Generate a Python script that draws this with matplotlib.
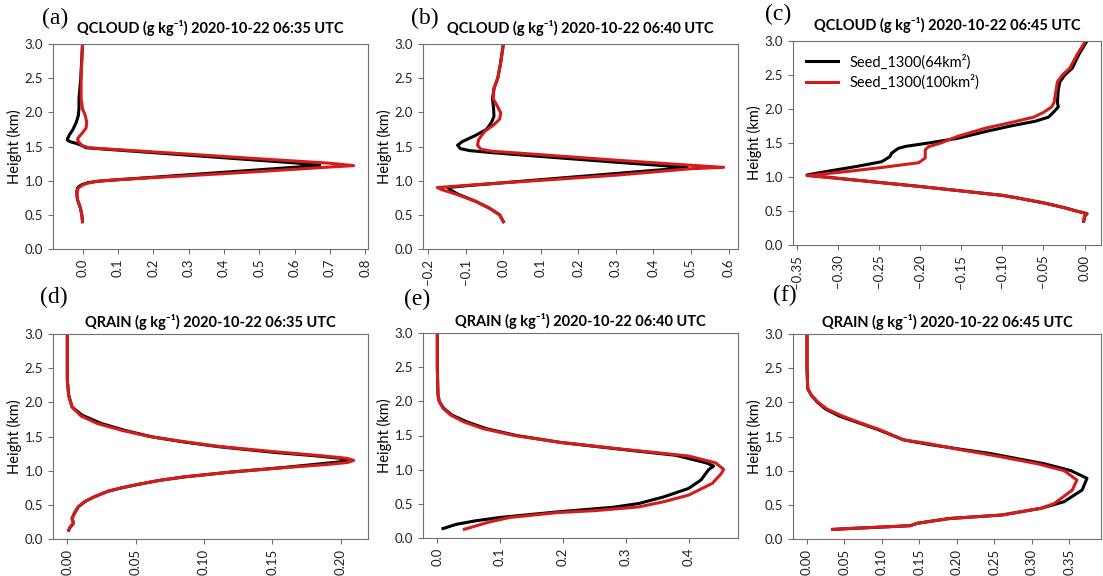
import matplotlib.pyplot as plt
from matplotlib.ticker import MultipleLocator

# 垂直廓线数据：高度(km) 与 混合比(g/kg)，black = 64km², red = 100km²
# (a) QCLOUD 06:35
a_black_h = [3.0, 2.5, 2.2, 2.05, 1.95, 1.85, 1.75, 1.68, 1.62, 1.595, 1.57, 1.547, 1.51, 1.483, 1.462,
             1.41, 1.335, 1.26, 1.226, 1.196, 1.123, 1.05, 1.01, 0.99, 0.97, 0.945, 0.92, 0.893, 0.85,
             0.8, 0.717, 0.6, 0.5, 0.4]
a_black_q = [0.0, -0.005, -0.01, -0.01, -0.012, -0.018, -0.027, -0.036, -0.042, -0.043, -0.035, -0.019,
             0.0, 0.009, 0.06, 0.2, 0.4, 0.6, 0.671, 0.6, 0.4, 0.2, 0.09, 0.04, 0.015, 0.0, -0.009,
             -0.014, -0.016, -0.016, -0.014, -0.006, -0.002, 0.0]
a_red_h = [3.0, 2.5, 2.2, 2.05, 1.95, 1.85, 1.77, 1.7, 1.63, 1.595, 1.55, 1.51, 1.48, 1.454, 1.388, 1.32,
           1.255, 1.22, 1.2, 1.134, 1.073, 1.018, 1.0, 0.98, 0.96, 0.935, 0.9, 0.87, 0.8, 0.717, 0.6,
           0.5, 0.4]
a_red_q = [0.0, -0.004, -0.004, 0.0, 0.008, 0.012, 0.01, 0.0, -0.012, -0.014, -0.008, 0.0, 0.02, 0.1,
           0.3, 0.5, 0.7, 0.767, 0.7, 0.5, 0.3, 0.11, 0.06, 0.03, 0.012, 0.0, -0.01, -0.014, -0.016,
           -0.014, -0.006, -0.002, 0.0]

# (b) QCLOUD 06:40
b_black_h = [3.0, 2.7, 2.5, 2.35, 2.2, 2.05, 1.94, 1.85, 1.75, 1.66, 1.57, 1.52, 1.47, 1.44, 1.41,
             1.375, 1.27, 1.21, 1.19, 1.15, 1.06, 0.97, 0.925, 0.9, 0.86, 0.8, 0.7, 0.6, 0.5, 0.43, 0.4]
b_black_q = [0.0, -0.008, -0.015, -0.025, -0.029, -0.026, -0.025, -0.032, -0.045, -0.075, -0.11, -0.122,
             -0.115, -0.09, -0.03, 0.05, 0.3, 0.45, 0.49, 0.4, 0.2, 0.0, -0.1, -0.149, -0.14, -0.12,
             -0.075, -0.038, -0.01, -0.003, 0.0]
b_red_h = [3.0, 2.7, 2.5, 2.35, 2.2, 2.08, 1.99, 1.9, 1.82, 1.72, 1.6, 1.52, 1.46, 1.43, 1.4, 1.3,
           1.225, 1.195, 1.175, 1.08, 1.005, 0.95, 0.91, 0.9, 0.87, 0.8, 0.7, 0.6, 0.5, 0.4]
b_red_q = [0.0, -0.008, -0.015, -0.025, -0.027, -0.015, -0.007, -0.01, -0.025, -0.05, -0.066, -0.069,
           -0.06, -0.03, 0.05, 0.3, 0.5, 0.587, 0.5, 0.3, 0.1, -0.05, -0.15, -0.176, -0.165, -0.125,
           -0.075, -0.038, -0.01, 0.0]

# (c) QCLOUD 06:45
c_black_h = [3.0, 2.8, 2.6, 2.5, 2.4, 2.28, 2.1, 2.03, 1.95, 1.88, 1.82, 1.75, 1.67, 1.57, 1.5, 1.45,
             1.42, 1.35, 1.3, 1.225, 1.15, 1.09, 1.03, 0.98, 0.92, 0.86, 0.795, 0.73, 0.69, 0.62, 0.55,
             0.5, 0.46, 0.42, 0.35]
c_black_q = [0.003, -0.007, -0.015, -0.024, -0.03, -0.032, -0.033, -0.032, -0.038, -0.044, -0.06, -0.09,
             -0.12, -0.154, -0.19, -0.218, -0.227, -0.235, -0.237, -0.247, -0.28, -0.31, -0.338, -0.3,
             -0.25, -0.2, -0.15, -0.1, -0.081, -0.05, -0.025, -0.01, 0.003, 0.0, -0.001]
c_red_h = [3.0, 2.8, 2.6, 2.5, 2.4, 2.25, 2.1, 2.03, 1.95, 1.88, 1.8, 1.72, 1.6, 1.5, 1.445, 1.4, 1.28,
           1.21, 1.14, 1.08, 1.02, 0.98, 0.92, 0.86, 0.795, 0.73, 0.69, 0.62, 0.55, 0.5, 0.46, 0.42, 0.35]
c_red_q = [0.001, -0.009, -0.018, -0.027, -0.033, -0.035, -0.037, -0.04, -0.05, -0.062, -0.09, -0.12,
           -0.154, -0.175, -0.19, -0.194, -0.194, -0.202, -0.247, -0.29, -0.338, -0.3, -0.25, -0.2,
           -0.15, -0.1, -0.081, -0.05, -0.025, -0.01, 0.003, 0.0, -0.001]

# (d) QRAIN 06:35
d_black_h = [3.0, 2.33, 2.1, 1.93, 1.81, 1.69, 1.59, 1.495, 1.42, 1.35, 1.27, 1.22, 1.18, 1.16, 1.13,
             1.1, 1.05, 0.98, 0.91, 0.86, 0.8, 0.75, 0.7, 0.62, 0.55, 0.47, 0.37, 0.3, 0.23, 0.17, 0.13]
d_black_q = [0.0, 0.0, 0.001, 0.0035, 0.011, 0.025, 0.042, 0.062, 0.085, 0.111, 0.15, 0.18, 0.2, 0.205,
             0.2, 0.185, 0.16, 0.12, 0.086, 0.068, 0.052, 0.04, 0.03, 0.02, 0.013, 0.008, 0.005, 0.0035,
             0.0045, 0.002, 0.001]
d_red_h = [3.0, 2.33, 2.1, 1.93, 1.8, 1.69, 1.59, 1.5, 1.425, 1.355, 1.28, 1.22, 1.18, 1.15, 1.12, 1.09,
           1.046, 0.98, 0.91, 0.86, 0.8, 0.75, 0.7, 0.62, 0.55, 0.47, 0.37, 0.3, 0.23, 0.17, 0.13]
d_red_q = [0.0, 0.0, 0.001, 0.0035, 0.01, 0.022, 0.04, 0.06, 0.085, 0.111, 0.15, 0.185, 0.205, 0.2095,
           0.205, 0.19, 0.16, 0.12, 0.086, 0.068, 0.052, 0.04, 0.03, 0.02, 0.013, 0.008, 0.005, 0.0035,
           0.0045, 0.002, 0.001]

# (e) QRAIN 06:40
e_black_h = [3.0, 2.5, 2.1, 2.0, 1.9, 1.8, 1.7, 1.6, 1.5, 1.4, 1.3, 1.21, 1.1, 1.053, 1.0, 0.85, 0.725,
             0.6, 0.505, 0.45, 0.38, 0.3, 0.25, 0.2, 0.138]
e_black_q = [0.0, 0.0, 0.001, 0.003, 0.01, 0.023, 0.047, 0.078, 0.126, 0.195, 0.29, 0.38, 0.428, 0.44,
             0.432, 0.42, 0.4, 0.36, 0.321, 0.28, 0.189, 0.099, 0.06, 0.03, 0.009]
e_red_h = [3.0, 2.5, 2.1, 2.0, 1.9, 1.8, 1.7, 1.6, 1.5, 1.4, 1.3, 1.2, 1.1, 1.004, 0.94, 0.8, 0.627,
           0.53, 0.455, 0.4, 0.37, 0.3, 0.235, 0.128]
e_red_q = [0.0, 0.0, 0.001, 0.003, 0.009, 0.021, 0.042, 0.073, 0.123, 0.195, 0.295, 0.4, 0.443, 0.456,
           0.452, 0.438, 0.4, 0.36, 0.321, 0.25, 0.189, 0.115, 0.083, 0.043]

# (f) QRAIN 06:45
f_black_h = [3.0, 2.5, 2.2, 2.1, 2.0, 1.9, 1.8, 1.7, 1.6, 1.45, 1.38, 1.3, 1.254, 1.2, 1.1, 1.0, 0.888,
             0.717, 0.546, 0.449, 0.351, 0.3, 0.23, 0.195, 0.175, 0.155, 0.14]
f_black_q = [0.0, 0.0, 0.001, 0.006, 0.014, 0.025, 0.043, 0.069, 0.095, 0.129, 0.165, 0.213, 0.243,
             0.269, 0.317, 0.352, 0.3735, 0.367, 0.343, 0.312, 0.26, 0.19, 0.147, 0.138, 0.1, 0.06, 0.034]
f_red_h = [3.0, 2.5, 2.2, 2.1, 2.0, 1.9, 1.8, 1.7, 1.6, 1.45, 1.4, 1.3, 1.24, 1.2, 1.1, 1.0, 0.863,
           0.717, 0.52, 0.449, 0.351, 0.3, 0.23, 0.195, 0.175, 0.155, 0.14]
f_red_q = [0.0, 0.0, 0.001, 0.006, 0.015, 0.027, 0.047, 0.071, 0.097, 0.129, 0.16, 0.208, 0.24, 0.26,
           0.308, 0.343, 0.36, 0.354, 0.33, 0.312, 0.26, 0.19, 0.147, 0.138, 0.1, 0.06, 0.034]

titles = ['QCLOUD (g kg⁻¹) 2020-10-22 06:35 UTC', 'QCLOUD (g kg⁻¹) 2020-10-22 06:40 UTC',
          'QCLOUD (g kg⁻¹) 2020-10-22 06:45 UTC', 'QRAIN (g kg⁻¹) 2020-10-22 06:35 UTC',
          'QRAIN (g kg⁻¹) 2020-10-22 06:40 UTC', 'QRAIN (g kg⁻¹) 2020-10-22 06:45 UTC']
labels = ['(a)', '(b)', '(c)', '(d)', '(e)', '(f)']
legend_names = ['Seed_1300(64km²)', 'Seed_1300(100km²)']
x_steps = [0.1, 0.1, 0.05, 0.05, 0.1, 0.05]

series = [
    (a_black_q, a_black_h, a_red_q, a_red_h),
    (b_black_q, b_black_h, b_red_q, b_red_h),
    (c_black_q, c_black_h, c_red_q, c_red_h),
    (d_black_q, d_black_h, d_red_q, d_red_h),
    (e_black_q, e_black_h, e_red_q, e_red_h),
    (f_black_q, f_black_h, f_red_q, f_red_h),
]

plt.rcParams['font.family'] = ['Lato', 'DejaVu Sans']

W, H = 1103, 576
fig = plt.figure(figsize=(W / 100, H / 100), dpi=100)

# 子图位置（像素：左, 右, 上, 下）
boxes = [(53, 368, 44, 249), (423, 738, 44, 249), (793, 1101, 41, 245),
         (53, 368, 334, 539), (423, 738, 333, 538), (793, 1101, 334, 539)]
label_pos = [(55, 18), (425, 18), (778, 14), (54, 297), (417, 299), (785, 295)]

spine_c = '#707070'
for k in range(6):
    l, r, t, b = boxes[k]
    ax = fig.add_axes([l / W, 1 - b / H, (r - l) / W, (b - t) / H])
    bq, bh, rq, rh = series[k]
    ax.plot(bq, bh, color='black', lw=2.2, label=legend_names[0])
    ax.plot(rq, rh, color='#d41c1c', lw=2.2, label=legend_names[1])
    ax.set_ylim(0, 3)
    ax.yaxis.set_major_locator(MultipleLocator(0.5))
    ax.xaxis.set_major_locator(MultipleLocator(x_steps[k]))
    ax.tick_params(axis='x', labelrotation=90)
    ax.tick_params(axis='both', labelsize=9.5, color=spine_c, labelcolor='#222222')
    for s in ax.spines.values():
        s.set_color(spine_c)
    ax.set_ylabel('Height (km)', fontsize=10.5, labelpad=2)
    ax.set_title(titles[k], fontsize=10.5, fontweight='bold', pad=8 if k < 3 else 5)
    fig.text(label_pos[k][0] / W, 1 - label_pos[k][1] / H, labels[k], family='Liberation Serif',
             fontsize=17, ha='center', va='center')
    if k == 2:
        ax.legend(loc='upper left', frameon=False, fontsize=10.5, handlelength=2.2,
                  labelspacing=0.35)

plt.savefig('out.png', dpi=100)
